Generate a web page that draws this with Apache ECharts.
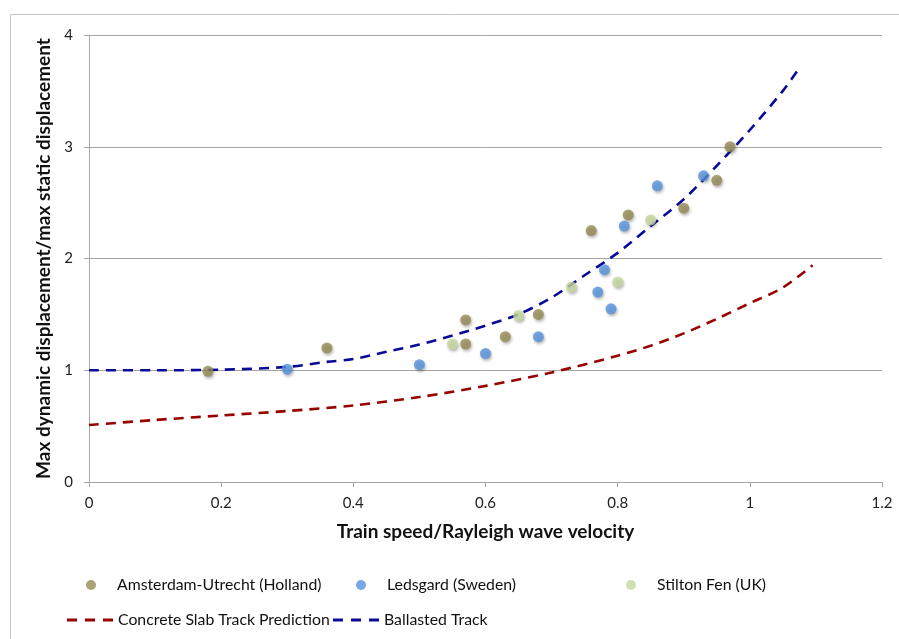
<!DOCTYPE html>
<html>
<head>
<meta charset="utf-8">
<script src="https://cdn.jsdelivr.net/npm/echarts@6/dist/echarts.min.js"></script>
<style>
html,body{margin:0;padding:0;background:#fff;}
#chart{width:899px;height:639px;}
</style>
</head>
<body>
<div id="chart"></div>
<script>
// ---- data ----
const xTicks = [0, 0.2, 0.4, 0.6, 0.8, 1, 1.2];
const yTicks = [0, 1, 2, 3, 4];

const amsterdam = [
  [0.18, 0.99], [0.36, 1.20], [0.57, 1.45], [0.57, 1.235], [0.63, 1.30],
  [0.68, 1.50], [0.76, 2.25], [0.816, 2.39], [0.90, 2.45], [0.95, 2.70], [0.97, 3.00]
];
const ledsgard = [
  [0.30, 1.01], [0.50, 1.05], [0.60, 1.15], [0.68, 1.30], [0.77, 1.70],
  [0.78, 1.90], [0.79, 1.55], [0.81, 2.29], [0.86, 2.65], [0.93, 2.74]
];
const stilton = [
  [0.55, 1.235], [0.65, 1.49], [0.73, 1.745], [0.80, 1.79], [0.85, 2.345]
];

const concreteX = [0, 0.1, 0.2, 0.3, 0.4, 0.5, 0.6, 0.7, 0.8, 0.85, 0.9, 0.95, 1.0, 1.05, 1.095];
const concreteY = [0.51, 0.555, 0.595, 0.635, 0.685, 0.76, 0.86, 0.98, 1.13, 1.22, 1.33, 1.46, 1.60, 1.74, 1.94];

const ballastX = [0, 0.1, 0.2, 0.3, 0.36, 0.4, 0.45, 0.5, 0.55, 0.6, 0.65, 0.7, 0.75, 0.8, 0.85, 0.9, 0.95, 1.0, 1.05, 1.073];
const ballastY = [1.0, 1.0, 1.005, 1.03, 1.075, 1.10, 1.165, 1.23, 1.31, 1.40, 1.50, 1.65, 1.85, 2.05, 2.29, 2.53, 2.83, 3.15, 3.50, 3.69];

const names = {
  ams: 'Amsterdam-Utrecht (Holland)',
  led: 'Ledsgard (Sweden)',
  sti: 'Stilton Fen (UK)',
  con: 'Concrete Slab Track Prediction',
  bal: 'Ballasted Track'
};
const colors = {
  ams: '#958955', led: '#5592dc', sti: '#c4d89d', con: '#990000', bal: '#0a0a9a'
};

// ---- chart ----
const FONT = 'Lato';
const zip = (xs, ys) => xs.map((x, i) => [x, ys[i]]);
const chart = echarts.init(document.getElementById('chart'));

const shadow = {shadowBlur: 3, shadowColor: 'rgba(0,0,0,0.35)', shadowOffsetX: 1, shadowOffsetY: 2};
function scatter(key, data) {
  return {
    name: names[key], type: 'scatter', data: data, symbol: 'circle', symbolSize: 11,
    itemStyle: Object.assign({color: colors[key]}, shadow), z: 3
  };
}
function curve(key, xs, ys) {
  return {
    name: names[key], type: 'line', data: zip(xs, ys), smooth: 0.3, symbol: 'none', showSymbol: false,
    lineStyle: {color: colors[key], width: 2.6, type: [10, 7]}, itemStyle: {color: colors[key]}, z: 2
  };
}
const legendText = {fontFamily: FONT, fontSize: 15.8, color: '#111', lineHeight: 16};
const dashIcon = 'path://M0,0h10v3h-10z M18,0h10v3h-10z M36,0h10v3h-10z';
function dotLegend(key, left) {
  return {
    data: [{name: names[key], icon: 'circle'}], left: left, top: 577, padding: 0,
    itemWidth: 10, itemHeight: 10, selectedMode: false,
    textStyle: Object.assign({padding: [0, 0, 0, 16]}, legendText)
  };
}
function lineLegend(key, left) {
  return {
    data: [{name: names[key], icon: dashIcon,
      itemStyle: {color: colors[key], borderWidth: 0}, lineStyle: {width: 0, opacity: 0}}],
    left: left, top: 612, padding: 0,
    itemWidth: 46, itemHeight: 3, selectedMode: false,
    textStyle: Object.assign({}, legendText)
  };
}

const axisGray = '#a6a6a6';
chart.setOption({
  animation: false,
  backgroundColor: '#fff',
  graphic: [{
    type: 'rect', left: 8, top: 12, z: -10, silent: true,
    shape: {x: 0, y: 0, width: 1000, height: 1000},
    style: {fill: 'none', stroke: '#c4c4c4', lineWidth: 1}
  }],
  grid: {left: 89, right: 17, top: 35, bottom: 157, containLabel: false},
  xAxis: {
    type: 'value', min: xTicks[0], max: xTicks[xTicks.length - 1], interval: 0.2,
    name: 'Train speed/Rayleigh wave velocity', nameLocation: 'middle', nameGap: 40,
    nameTextStyle: {fontFamily: FONT, fontWeight: 'bold', fontSize: 19, color: '#111'},
    axisLine: {show: true, lineStyle: {color: axisGray, width: 1}},
    axisTick: {show: true, length: 5, lineStyle: {color: axisGray}},
    axisLabel: {margin: 14, fontFamily: FONT, fontSize: 15, color: '#222',
      formatter: v => String(Math.round(v * 10) / 10)},
    splitLine: {show: false}
  },
  yAxis: {
    type: 'value', min: yTicks[0], max: yTicks[yTicks.length - 1], interval: 1,
    name: 'Max dynamic displacement/max static displacement', nameLocation: 'middle', nameGap: 25,
    nameTextStyle: {fontFamily: FONT, fontWeight: 'bold', fontSize: 19, color: '#111'},
    axisLine: {show: true, lineStyle: {color: axisGray, width: 1}},
    axisTick: {show: true, length: 5, lineStyle: {color: axisGray}},
    axisLabel: {margin: 16, fontFamily: FONT, fontSize: 15, color: '#222'},
    splitLine: {show: true, lineStyle: {color: axisGray, width: 1}}
  },
  legend: [
    dotLegend('ams', 86), dotLegend('led', 356), dotLegend('sti', 626),
    lineLegend('con', 67), lineLegend('bal', 333)
  ],
  series: [
    curve('con', concreteX, concreteY),
    curve('bal', ballastX, ballastY),
    scatter('ams', amsterdam),
    scatter('led', ledsgard),
    scatter('sti', stilton)
  ]
});
</script>
</body>
</html>
